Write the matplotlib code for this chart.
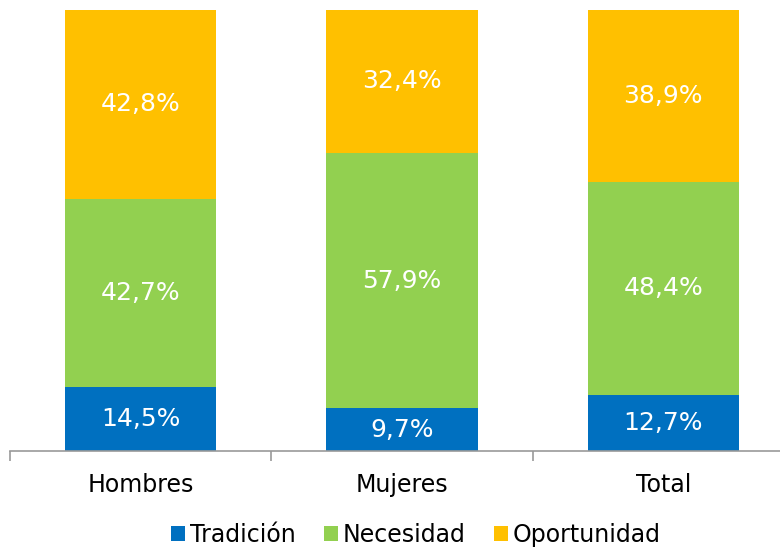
import matplotlib
matplotlib.use("Agg")
import matplotlib.pyplot as plt
import numpy as np

# data (percent)
categories = ["Hombres", "Mujeres", "Total"]
series = ["Tradición", "Necesidad", "Oportunidad"]
tradicion = [14.5, 9.7, 12.7]
necesidad = [42.7, 57.9, 48.4]
oportunidad = [42.8, 32.4, 38.9]

colors = ["#0070C0", "#92D050", "#FFC000"]

plt.rcParams["font.family"] = ["DejaVu Sans"]

fig = plt.figure(figsize=(7.8, 5.5), dpi=100)
# axes runs a little past the right edge, like the original
ax = fig.add_axes([10 / 780, 99 / 550, 784 / 780, 441 / 550])

x = np.arange(len(categories))
bottom = np.zeros(len(categories))
for name, vals, col in zip(series, [tradicion, necesidad, oportunidad], colors):
    vals = np.array(vals)
    ax.bar(x, vals, 0.58, bottom=bottom, color=col, label=name)
    for xi, b, v in zip(x, bottom, vals):
        ax.text(xi, b + v / 2, "{:.1f}%".format(v).replace(".", ","),
                ha="center", va="center", color="white", fontsize=18)
    bottom += vals

ax.set_xlim(-0.5, 2.5)
ax.set_ylim(0, 100)

for s in ["top", "right", "left"]:
    ax.spines[s].set_visible(False)
ax.spines["bottom"].set_color("#999999")
ax.spines["bottom"].set_linewidth(1.2)
ax.set_yticks([])

ax.set_xticks(x)
ax.set_xticklabels(categories, fontsize=17)
ax.tick_params(axis="x", which="major", length=0, pad=16)
ax.set_xticks([-0.5, 0.5, 1.5, 2.5], minor=True)
ax.tick_params(axis="x", which="minor", length=7, width=1.2, color="#999999")

fig.legend(loc="center", bbox_to_anchor=(0.533, 0.027), ncol=3, frameon=False,
           fontsize=17, handlelength=0.6, handleheight=0.6,
           handletextpad=0.2, columnspacing=1.2)

fig.savefig("out.png", dpi=100)
